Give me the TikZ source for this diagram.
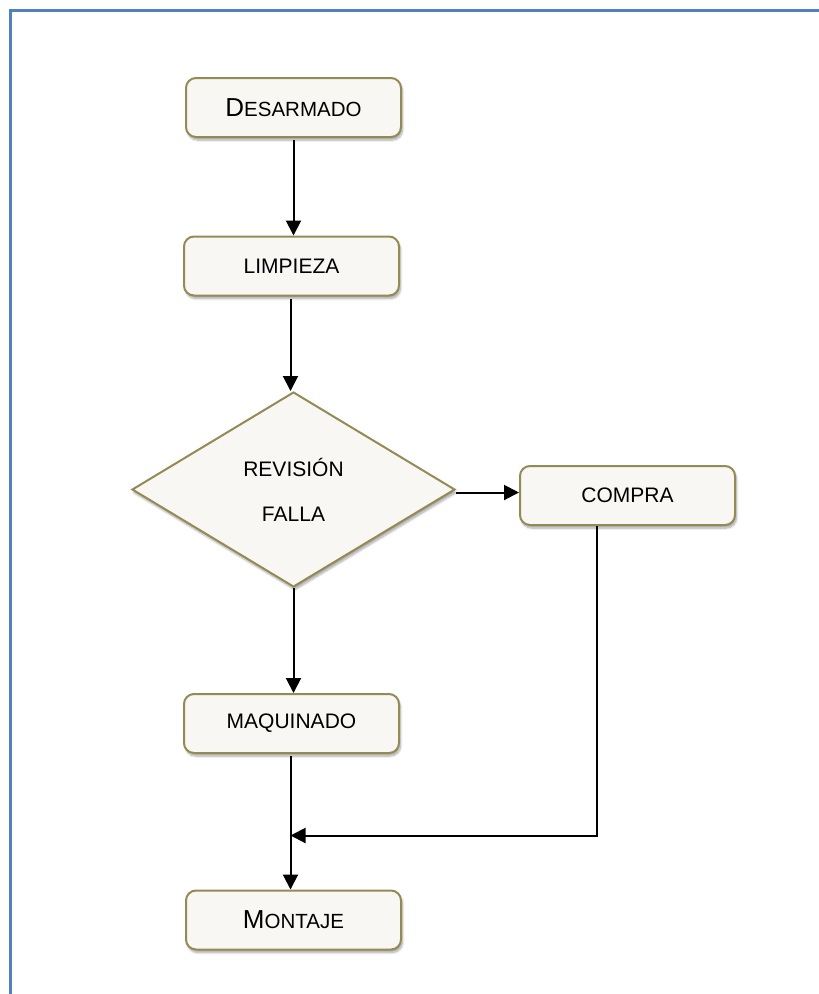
\documentclass[tikz,border=0pt]{standalone}
\usepackage{fontspec}
\setmainfont{Liberation Sans}
\usetikzlibrary{shapes.geometric,arrows.meta,shadows.blur}
\definecolor{frameblue}{RGB}{79,129,189}
\definecolor{boxborder}{RGB}{148,138,84}
\definecolor{boxfill}{RGB}{248,247,243}
\tikzset{
  procbox/.style={draw=boxborder, fill=boxfill, line width=2pt, rounded corners=10pt,
    minimum width=215pt, minimum height=59pt, inner sep=0pt,
    font=\fontsize{21}{25}\selectfont,
    blur shadow={shadow blur steps=8, shadow xshift=1.5pt, shadow yshift=-3pt, shadow opacity=35}},
  decbox/.style={draw=boxborder, fill=boxfill, line width=2pt, diamond, aspect=1.656,
    minimum width=323pt, minimum height=195pt, inner sep=0pt, align=center,
    font=\fontsize{21}{45}\selectfont,
    blur shadow={shadow blur steps=8, shadow xshift=1.5pt, shadow yshift=-3pt, shadow opacity=35}},
  conn/.style={line width=2pt, -{Triangle[length=15pt,width=15pt]}},
  frameline/.style={draw=frameblue, line width=3.2pt}
}
\newcommand{\scword}[2]{{\fontsize{26}{30}\selectfont #1}{\fontsize{20.5}{25}\selectfont #2}}
\begin{document}
\begin{tikzpicture}[x=1pt,y=-1pt]
\useasboundingbox (0,0) rectangle (819,994);
\coordinate (ftl) at (10.7,10.7);
\coordinate (fbl) at (10.7,994);
\coordinate (ftr) at (819,10.7);
\draw[frameline] (fbl) -- (ftl) -- (ftr);

\node[procbox] (des) at (293.5,107.5) {\scword{D}{ESARMADO}};
\node[procbox] (lim) at (291.5,266) {LIMPIEZA};
\node[decbox] (rev) at (293.5,489.5) {REVISIÓN\\FALLA};
\node[procbox] (com) at (627.5,495.5) {COMPRA};
\node[procbox] (maq) at (291.5,723.5) {MAQUINADO};
\node[procbox] (mon) at (293.5,920) {\scword{M}{ONTAJE}};

\coordinate (cb) at (596.5,526);
\coordinate (cc) at (596.5,835.5);
\coordinate (j) at (290.5,835.5);

\draw[conn] ([yshift=-2pt]des.south) -- (des.south |- lim.north);
\draw[conn] ([xshift=-1pt,yshift=-2pt]lim.south) -- ([xshift=-1pt]lim.south |- rev.north);
\draw[conn] ([yshift=-3pt]rev.east) -- ([yshift=-3pt]rev.east -| com.west);
\draw[conn] (rev.south) -- (rev.south |- maq.north);
\draw[conn] ([xshift=-1pt,yshift=-2pt]maq.south) -- ([xshift=-1pt]maq.south |- mon.north);
\draw[conn] (cb) -- (cc) -- (j);
\end{tikzpicture}
\end{document}
